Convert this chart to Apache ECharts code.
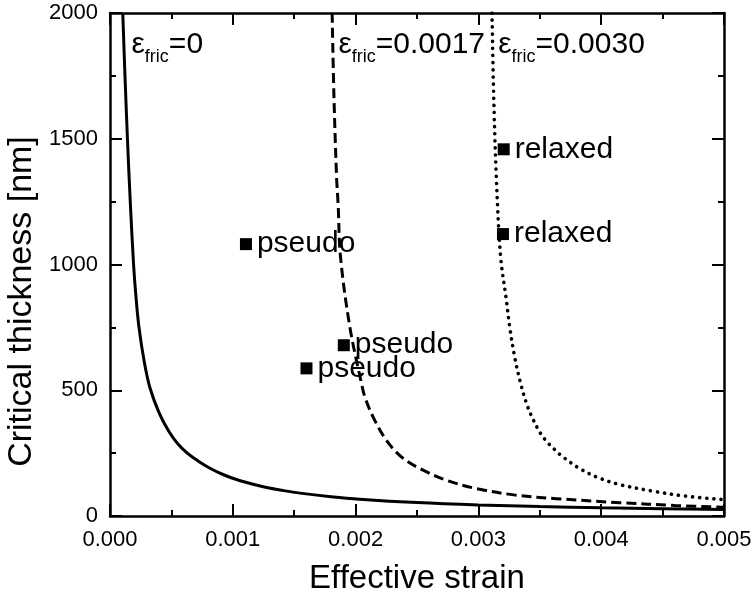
<!DOCTYPE html>
<html>
<head>
<meta charset="utf-8">
<script src="https://cdn.jsdelivr.net/npm/echarts@6/dist/echarts.min.js"></script>
<style>
  html, body { margin: 0; padding: 0; background: #fff; }
  #chart { width: 756px; height: 597px; }
</style>
</head>
<body>
<div id="chart"></div>
<script>
// Critical thickness curves [effective strain, thickness in nm] for three friction strains
const curveFric0 = [
  [0.000104, 2000], [0.000122, 1750], [0.000142, 1500], [0.000165, 1250],
  [0.000192, 1000], [0.000210, 880], [0.000236, 750], [0.000280, 610],
  [0.000325, 510], [0.000400, 410], [0.000475, 340], [0.000550, 288],
  [0.000629, 250], [0.000720, 218], [0.000814, 190], [0.000920, 165],
  [0.001030, 145], [0.001150, 128], [0.001275, 113], [0.001400, 102],
  [0.001546, 91], [0.001800, 77], [0.002034, 67], [0.002500, 53.5],
  [0.003000, 44], [0.003500, 37.5], [0.004000, 32.5], [0.004500, 28.8],
  [0.005000, 26]
];
const curveFric0017 = [
  [0.001809, 2000], [0.001823, 1681], [0.001845, 1349], [0.001858, 1236],
  [0.001877, 1031], [0.001953, 752], [0.002048, 527], [0.002075, 474],
  [0.002142, 394], [0.002251, 301], [0.002373, 235], [0.002522, 189],
  [0.002740, 142], [0.002984, 109], [0.003290, 84], [0.003635, 69],
  [0.004150, 53], [0.004600, 42], [0.005000, 35]
];
const curveFric0030 = [
  [0.003111, 2000], [0.003124, 1681], [0.003146, 1349], [0.003181, 1031],
  [0.003228, 858], [0.003255, 752], [0.003295, 633], [0.003344, 527],
  [0.003390, 450], [0.003430, 400], [0.003499, 334], [0.003553, 298],
  [0.003621, 264], [0.003688, 235], [0.003824, 189], [0.003973, 153],
  [0.004150, 125], [0.004420, 99], [0.004690, 79], [0.005000, 65]
];

// Measured samples
const pseudoPoints = [[0.001107, 1081], [0.001904, 679], [0.001600, 587]];
const relaxedPoints = [[0.003206, 1458], [0.003200, 1121]];
const pseudoLabel = 'pseudo';
const relaxedLabel = 'relaxed';

// Curve captions: friction strain values and where each caption sits
const fricValues = ['0', '0.0017', '0.0030'];
const fricCaptionAnchors = [[0.000175, 1847], [0.001860, 1847], [0.003161, 1847]];

// Axis ticks
const xTicks = [0, 0.001, 0.002, 0.003, 0.004, 0.005];
const yTicks = [0, 500, 1000, 1500, 2000];

const FONT = '"Liberation Sans", Arial, Helvetica, sans-serif';
const chart = echarts.init(document.getElementById('chart'), null, { renderer: 'canvas' });

function xAxisDef(pos, showLabels) {
  return {
    type: 'value', position: pos,
    min: xTicks[0], max: xTicks[xTicks.length - 1], interval: xTicks[1] - xTicks[0],
    axisLine: { show: true, onZero: false, lineStyle: { color: '#000', width: 2.5 } },
    axisTick: { show: true, inside: true, length: 12, lineStyle: { color: '#000', width: 2 } },
    minorTick: { show: true, splitNumber: 2, length: 6, lineStyle: { color: '#000', width: 2 } },
    splitLine: { show: false },
    axisLabel: {
      show: showLabels, margin: 13, fontSize: 22, fontFamily: FONT, color: '#000',
      formatter: v => v.toFixed(3)
    },
    name: showLabels ? 'Effective strain' : '',
    nameLocation: 'middle', nameGap: 46,
    nameTextStyle: { fontSize: 33, fontFamily: FONT, color: '#000' }
  };
}
function yAxisDef(pos, showLabels) {
  return {
    type: 'value', position: pos,
    min: yTicks[0], max: yTicks[yTicks.length - 1], interval: yTicks[1] - yTicks[0],
    axisLine: { show: true, onZero: false, lineStyle: { color: '#000', width: 2.5 } },
    axisTick: { show: true, inside: true, length: 12, lineStyle: { color: '#000', width: 2 } },
    minorTick: { show: true, splitNumber: 2, length: 6, lineStyle: { color: '#000', width: 2 } },
    splitLine: { show: false },
    axisLabel: {
      show: showLabels, margin: 12, fontSize: 22, fontFamily: FONT, color: '#000',
      formatter: v => String(v)
    },
    name: showLabels ? 'Critical thickness [nm]' : '',
    nameLocation: 'middle', nameGap: 54,
    nameTextStyle: { fontSize: 34, fontFamily: FONT, color: '#000', padding: [0, 74, 0, 0] }
  };
}

const captionRich = {
  e: { fontSize: 30, lineHeight: 30, padding: [0, 0, 7, 0], verticalAlign: 'bottom', fontFamily: FONT, color: '#000' },
  s: { fontSize: 18, lineHeight: 18, verticalAlign: 'bottom', fontFamily: FONT, color: '#000' },
  n: { fontSize: 30, lineHeight: 30, padding: [0, 0, 7, 0], verticalAlign: 'bottom', fontFamily: FONT, color: '#000' }
};

function curve(data, dash, width, cap) {
  return {
    type: 'line', data: data, xAxisIndex: 0, yAxisIndex: 0,
    showSymbol: false, symbol: 'none', smooth: 0.35, clip: true, silent: true,
    lineStyle: { color: '#000', width: width, type: dash, cap: cap },
    z: 3
  };
}

function pointSeries(data, text) {
  return {
    type: 'scatter', data: data, symbol: 'rect', symbolSize: 12,
    itemStyle: { color: '#000', opacity: 1 }, z: 5,
    label: {
      show: true, position: 'right', distance: 5, formatter: text,
      fontSize: 30, fontFamily: FONT, color: '#000', opacity: 1
    }
  };
}

chart.setOption({
  animation: false,
  backgroundColor: '#fff',
  grid: { left: 110, right: 32, top: 13, bottom: 81, containLabel: false, outerBoundsMode: 'none' },
  xAxis: [xAxisDef('bottom', true), xAxisDef('top', false)],
  yAxis: [yAxisDef('left', true), yAxisDef('right', false)],
  series: [
    curve(curveFric0, 'solid', 3, 'butt'),
    curve(curveFric0017, [10, 5], 3, 'butt'),
    curve(curveFric0030, [0.1, 7], 3.6, 'round'),
    pointSeries(pseudoPoints, pseudoLabel),
    pointSeries(relaxedPoints, relaxedLabel),
    {
      type: 'scatter', symbolSize: 0, silent: true, z: 6,
      itemStyle: { opacity: 1 },
      data: fricCaptionAnchors,
      label: {
        show: true, position: 'right', distance: 0,
        formatter: p => '{e|ε}{s|fric}{n|=' + fricValues[p.dataIndex] + '}',
        rich: captionRich
      }
    }
  ]
});
</script>
</body>
</html>
